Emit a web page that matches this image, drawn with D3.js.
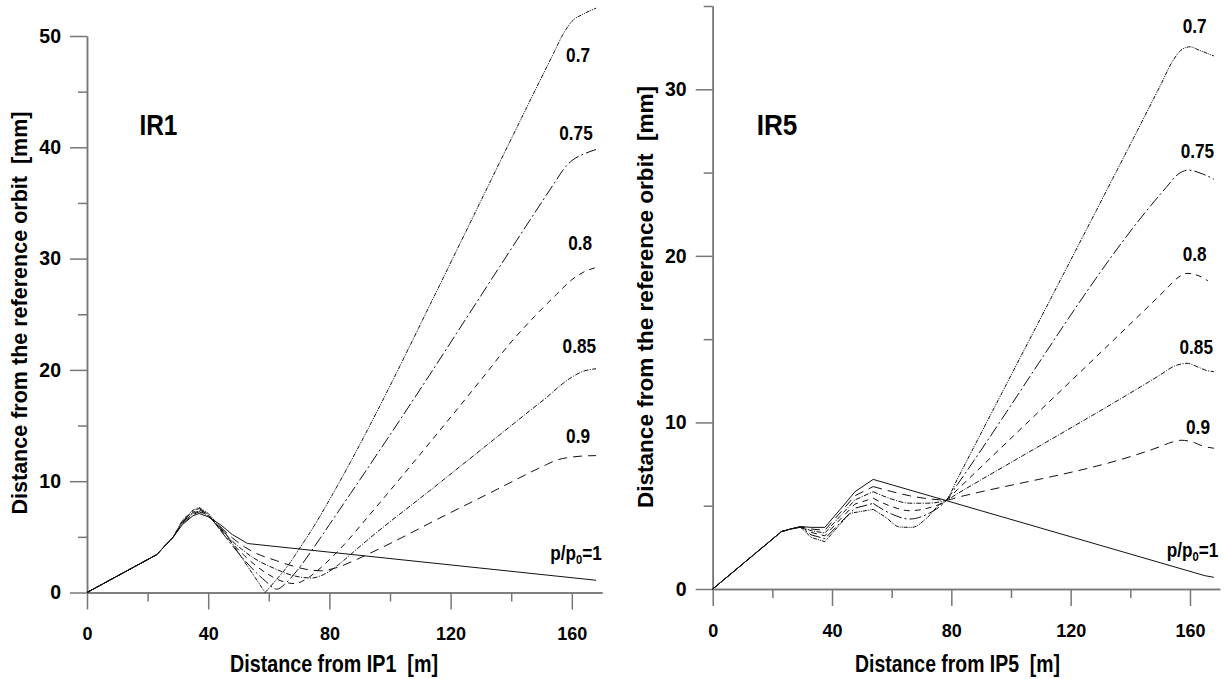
<!DOCTYPE html>
<html>
<head>
<meta charset="utf-8">
<script src="https://cdn.jsdelivr.net/npm/d3@7"></script>
<style>
  body { margin: 0; background: #fff; }
  svg text { font-family: "Liberation Sans", Arial, sans-serif; font-weight: bold; fill: #000; white-space: pre; }
  .axis path, .axis line { stroke: #777; stroke-width: 1.5; }
  .axis text { font-size: 19.5px; }
  .axis.xaxis text { font-size: 18px; }
  .curve { fill: none; stroke: #111; stroke-width: 1; }
</style>
</head>
<body>
<script>
// ---- data ----
var ratios = ["0.7", "0.75", "0.8", "0.85", "0.9", "1"];
var xMajor = [0, 40, 80, 120, 160];
var xMinor = [20, 60, 100, 140];
var yMajorIR1 = [0, 10, 20, 30, 40, 50];
var yMinorIR1 = [5, 15, 25, 35, 45];
var yMajorIR5 = [0, 10, 20, 30];
var yMinorIR5 = [5, 15, 25, 35];

// IR1: [distance from IP1 (m), distance from reference orbit (mm)]
var ir1_070 = [[0,0],[23,3.4],[28.5,5.0],[31.5,6.5],[35,7.4],[37,7.65],[40,7.1],[45,5.6],[58.8,0],[62,1.0],[66,2.3],[70,3.9],[75,6.0],[81,8.8],[101,19.1],[107.7,22.8],[153.9,48.4],[157.2,50.2],[160,51.3],[164,52.0],[168,52.5]];
var ir1_075 = [[0,0],[23,3.4],[28.5,5.0],[31.5,6.4],[35,7.3],[37,7.55],[40,7.0],[44,5.6],[48,4.2],[52,2.9],[56,1.75],[59,1.0],[62.6,0.3],[66,0.95],[70,2.2],[75,4.1],[80,6.1],[87,8.9],[113.2,19.6],[122,23.3],[155,37.1],[157.2,38.0],[160,38.8],[164,39.4],[168,39.8]];
var ir1_080 = [[0,0],[23,3.4],[28.5,5.0],[31.5,6.3],[35,7.2],[37,7.45],[40,7.0],[44,5.7],[48,4.4],[52,3.3],[56,2.35],[60,1.6],[64,1.05],[68.6,0.8],[72,1.15],[76,1.95],[80,2.95],[86,4.65],[91,6.25],[130,19.1],[140.3,22.6],[147.7,24.8],[155,26.8],[160,28.1],[164,28.8],[168,29.2]];
var ir1_085 = [[0,0],[23,3.4],[28.5,5.0],[31.5,6.3],[35,7.1],[37,7.35],[40,6.9],[44,5.8],[48,4.6],[51,3.9],[55,3.1],[61.5,2.2],[67,1.6],[70.5,1.38],[74,1.3],[78,1.6],[83,2.5],[88,3.65],[92.3,4.65],[114.3,9.4],[146,16.3],[152,17.6],[156,18.55],[160,19.35],[164,19.9],[168,20.1]];
var ir1_090 = [[0,0],[23,3.4],[28.5,5.0],[31.5,6.2],[35,7.0],[37,7.25],[40,6.9],[44,5.9],[48,4.9],[52,4.1],[56,3.5],[62.6,2.85],[67,2.45],[72,2.1],[77,1.95],[82,2.2],[86.8,2.7],[92,3.35],[97.8,4.1],[116.5,6.7],[136.3,9.4],[146,10.75],[151.7,11.5],[155,11.9],[158.3,12.1],[163,12.25],[168,12.3]];
var ir1_100 = [[0,0],[23,3.4],[28.5,5.0],[31.5,6.1],[35,6.9],[37,7.1],[40,6.8],[44,6.1],[48,5.2],[53,4.4],[168,1.1]];

// IR5: [distance from IP5 (m), distance from reference orbit (mm)]
var ir5_070 = [[0,0],[23,3.44],[26,3.6],[29.5,3.7],[33,3.1],[37.6,2.84],[42,3.75],[46,4.54],[53.8,4.78],[58,4.3],[62.7,3.72],[66.7,3.7],[72,4.3],[75.6,5.0],[78.4,5.34],[82,6.59],[150,30.2],[154.4,31.75],[157,32.35],[160,32.55],[163,32.35],[168,32.0]];
var ir5_075 = [[0,0],[23,3.44],[26,3.6],[29.5,3.71],[33,3.25],[37.6,3.02],[42.6,3.95],[47.7,4.85],[53.8,5.14],[60,4.5],[66,4.2],[72,4.5],[78.4,5.34],[82,6.26],[152,24.1],[156,24.9],[159.5,25.15],[163,25.0],[168,24.6]];
var ir5_080 = [[0,0],[23,3.44],[26,3.6],[29.5,3.72],[33,3.4],[37.6,3.19],[42.6,4.15],[47.7,5.1],[53.8,5.45],[60,4.95],[66,4.7],[72,4.85],[78.4,5.34],[82,5.96],[152,18.0],[156,18.7],[159,18.95],[163,18.8],[166,18.5]];
var ir5_085 = [[0,0],[23,3.44],[26,3.6],[29.5,3.73],[33,3.5],[37.6,3.36],[42.6,4.35],[47.7,5.35],[53.8,5.84],[60,5.4],[66,5.15],[72,5.15],[78.4,5.34],[82,5.72],[150,12.85],[155,13.4],[159,13.55],[163,13.3],[166,13.1],[168,13.05]];
var ir5_090 = [[0,0],[23,3.44],[26,3.6],[29.5,3.74],[33,3.6],[37.6,3.53],[42.6,4.55],[47.7,5.6],[53.8,6.15],[60,5.85],[66,5.6],[72,5.42],[78.4,5.34],[82,5.5],[150,8.55],[154,8.82],[157,8.93],[161,8.82],[164,8.6],[168,8.45]];
var ir5_100 = [[0,0],[23,3.44],[26,3.6],[29.5,3.75],[33,3.7],[37.6,3.7],[42.6,4.75],[47.7,5.84],[53.8,6.58],[78.4,5.3],[165,0.8],[168,0.7]];

// the piecewise-straight part of each curve ends here (x in m), smooth after
var straightToIR1 = [58.8, 44, 44, 44, 44, 168];
var straightToIR5 = [53.8, 53.8, 53.8, 53.8, 53.8, 168];

// where the p/p0 labels sit, in data units (right end, baseline)
var labelAtIR1 = [[166.0,47.7],[166.9,40.7],[166.7,30.8],[168.0,21.5],[166.0,13.4],[169.9,2.9]];
var labelAtIR5 = [[165.6,33.4],[168.1,25.9],[165.6,19.7],[167.7,14.1],[166.7,9.3],[169.5,1.9]];

// line styles for each ratio
var dashes = ["4,1,1,1,1,1", "12,3,2,3", "6,5", "5,1.5,1,1.5", "9,6", null];

function panel(p) {
  var x = d3.scaleLinear().domain([0, 170]).range([p.x0, p.x1]);
  var y = d3.scaleLinear().domain([0, p.ymax]).range([p.y0, p.y1]);
  var g = svg.append("g");

  // minor ticks
  g.append("g").attr("class", "axis xaxis").attr("transform", "translate(0," + p.y0 + ")")
    .call(d3.axisBottom(x).tickValues(xMinor).tickSize(9).tickSizeOuter(0).tickFormat(""));
  g.append("g").attr("class", "axis").attr("transform", "translate(" + p.x0 + ",0)")
    .call(d3.axisLeft(y).tickValues(p.yMinor).tickSize(9).tickSizeOuter(0).tickFormat(""));
  // major ticks
  g.append("g").attr("class", "axis xaxis").attr("transform", "translate(0," + p.y0 + ")")
    .call(d3.axisBottom(x).tickValues(xMajor).tickSize(17).tickSizeOuter(0).tickPadding(18).tickFormat(d3.format("d")));
  g.append("g").attr("class", "axis").attr("transform", "translate(" + p.x0 + ",0)")
    .call(d3.axisLeft(y).tickValues(p.yMajor).tickSize(17).tickSizeOuter(0).tickPadding(9).tickFormat(d3.format("d")));

  var straight = d3.line().x(function(d) { return x(d[0]); }).y(function(d) { return y(d[1]); });
  var smooth = d3.line().x(function(d) { return x(d[0]); }).y(function(d) { return y(d[1]); })
    .curve(d3.curveMonotoneX);

  p.series.forEach(function(s, i) {
    var cut = p.straightTo[i];
    var near = s.filter(function(d) { return d[0] <= cut; });
    var far = s.filter(function(d) { return d[0] >= cut; });
    [[near, straight], [far, smooth]].forEach(function(part) {
      if (part[0].length < 2) return;
      g.append("path").attr("class", "curve").attr("d", part[1](part[0]))
        .attr("stroke-dasharray", dashes[i])
        .attr("stroke-width", i === 5 ? 1.3 : 1);
    });
  });

  // ratio labels
  ratios.forEach(function(r, i) {
    var pos = p.labels[i];
    var t = g.append("text")
      .attr("transform", "translate(" + x(pos[0]) + "," + y(pos[1]) + ") scale(0.86,1)")
      .attr("text-anchor", "end").style("font-size", "20px");
    if (r === "1") {
      t.append("tspan").text("p/p");
      t.append("tspan").text("0").style("font-size", "13px").attr("dy", 4);
      t.append("tspan").text("=1").attr("dy", -4);
    } else {
      t.text(r);
    }
  });

  // panel name
  g.append("text").attr("x", x(p.name[1])).attr("y", y(p.name[2]))
    .attr("textLength", p.nameLen).attr("lengthAdjust", "spacingAndGlyphs")
    .style("font-size", "30px").text(p.name[0]);

  // axis titles
  g.append("text").attr("x", p.xtitle[1]).attr("y", 671.7).attr("text-anchor", "middle")
    .attr("textLength", p.xtitle[2]).attr("lengthAdjust", "spacingAndGlyphs")
    .style("font-size", "23px").text(p.xtitle[0]);
  g.append("text").attr("transform", "translate(" + p.ytitle[0] + "," + p.ytitle[1] + ") rotate(-90)")
    .attr("text-anchor", "middle").attr("textLength", p.ytitle[2]).attr("lengthAdjust", "spacingAndGlyphs")
    .style("font-size", "21.5px").text("Distance from the reference orbit  [mm]");
}

var svg = d3.select("body").append("svg").attr("width", 1229).attr("height", 679);

panel({
  x0: 87, x1: 602.1, y0: 592.5, y1: 36, ymax: 50,
  yMajor: yMajorIR1, yMinor: yMinorIR1,
  series: [ir1_070, ir1_075, ir1_080, ir1_085, ir1_090, ir1_100],
  straightTo: straightToIR1,
  labels: labelAtIR1,
  name: ["IR1", 17.3, 41.1], nameLen: 38,
  xtitle: ["Distance from IP1  [m]", 334, 208],
  ytitle: [26.7, 313, 403]
});

panel({
  x0: 712.7, x1: 1219.8, y0: 589, y1: 6, ymax: 35,
  yMajor: yMajorIR5, yMinor: yMinorIR5,
  series: [ir5_070, ir5_075, ir5_080, ir5_085, ir5_090, ir5_100],
  straightTo: straightToIR5,
  labels: labelAtIR5,
  name: ["IR5", 14.75, 27.26], nameLen: 40.7,
  xtitle: ["Distance from IP5  [m]", 957.5, 205],
  ytitle: [653.3, 297, 422]
});
</script>
</body>
</html>
